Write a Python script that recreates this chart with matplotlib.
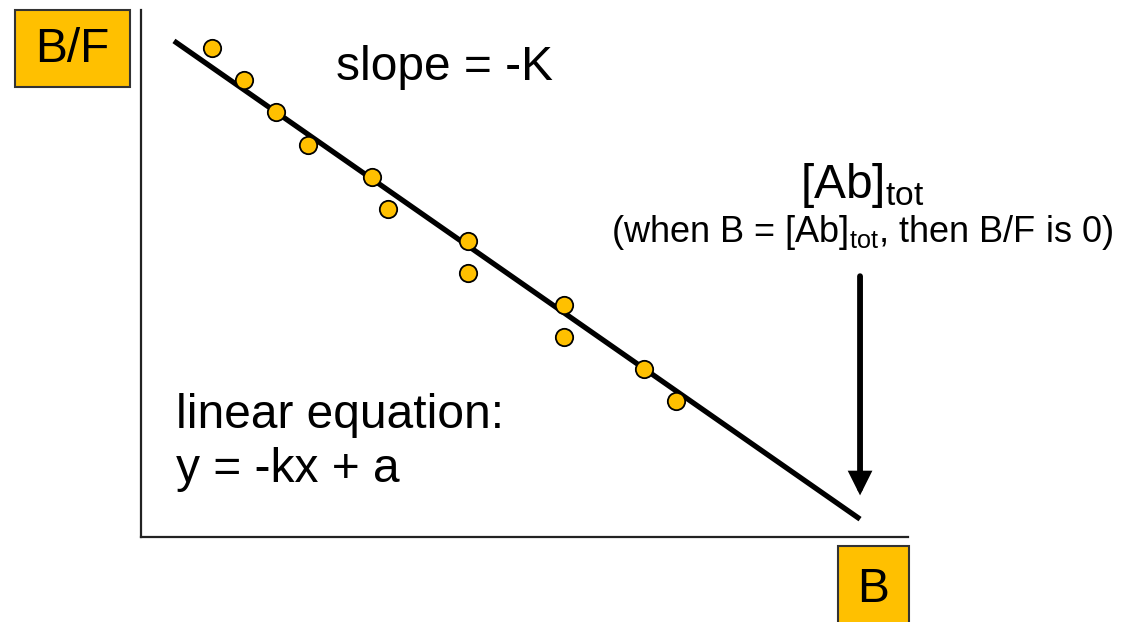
import matplotlib
matplotlib.use("Agg")
import matplotlib.pyplot as plt
from matplotlib.patches import Rectangle
import numpy as np

plt.rcParams['font.family'] = ['Liberation Sans', 'DejaVu Sans']
plt.rcParams['mathtext.fontset'] = 'custom'
plt.rcParams['mathtext.rm'] = 'Liberation Sans'
plt.rcParams['mathtext.it'] = 'Liberation Sans'

# Data (arbitrary units)
b_values = [2.22, 3.22, 4.22, 5.22, 7.22, 7.72, 10.22, 10.22, 13.22, 13.22, 15.72, 16.72]
bf_values = [15.28, 14.28, 13.28, 12.25, 11.25, 10.25, 9.25, 8.25, 7.25, 6.25, 5.25, 4.25]
slope_k = 0.697
intercept_a = 16.22
line_x_range = [1.03, 22.47]
arrow_x = 22.47
arrow_y = [8.15, 1.30]

W, H = 1124, 622
fig = plt.figure(figsize=(W / 100, H / 100), dpi=100)
ax = fig.add_axes([141 / W, (H - 537) / H, 767 / W, 527 / H])
ax.set_xlim(0, 767 / 32)
ax.set_ylim(0, 527 / 32)
for s in ['top', 'right']:
    ax.spines[s].set_visible(False)
for s in ['left', 'bottom']:
    ax.spines[s].set_color('#222222')
    ax.spines[s].set_linewidth(1.6)
ax.set_xticks([])
ax.set_yticks([])

lx = np.array(line_x_range)
ax.plot(lx, intercept_a - slope_k * lx, color='black', lw=3.8, solid_capstyle='butt', zorder=2)
ax.plot(b_values, bf_values, 'o', ms=12.5, mfc='#FFC000', mec='black', mew=1.3, zorder=3, clip_on=False)

ax.annotate('', xy=(arrow_x, arrow_y[1]), xytext=(arrow_x, arrow_y[0]),
            arrowprops=dict(arrowstyle='-|>,head_length=1.1,head_width=0.55', color='black', lw=4.2,
                            shrinkA=0, shrinkB=0, joinstyle='miter'))

def ftext(px, py, s, **kw):
    fig.text(px / W, 1 - py / H, s, **kw)

ftext(336, 68, 'slope = -K', fontsize=34.5, va='center', ha='left')
ftext(176, 415, 'linear equation:', fontsize=34.5, va='center', ha='left')
ftext(176, 470, 'y = -kx + a', fontsize=34.5, va='center', ha='left')
ftext(862, 185, r'[Ab]$_{\mathrm{tot}}$', fontsize=34.5, va='center', ha='center')
ftext(862, 232, r'(when B = [Ab]$_{\mathrm{tot}}$, then B/F is 0)', fontsize=26, va='center', ha='center')

# label boxes
fig.add_artist(Rectangle((15 / W, 1 - 87 / H), 115 / W, 77 / H, transform=fig.transFigure,
                         facecolor='#FFC000', edgecolor='#333333', lw=1.5))
ftext(72, 50, 'B/F', fontsize=34.5, va='center', ha='center')
fig.add_artist(Rectangle((838 / W, 1 - 625 / H), 71 / W, 79 / H, transform=fig.transFigure,
                         facecolor='#FFC000', edgecolor='#333333', lw=1.5, clip_on=False))
ftext(873, 589, 'B', fontsize=34.5, va='center', ha='center')

fig.savefig('out.png', dpi=100)
